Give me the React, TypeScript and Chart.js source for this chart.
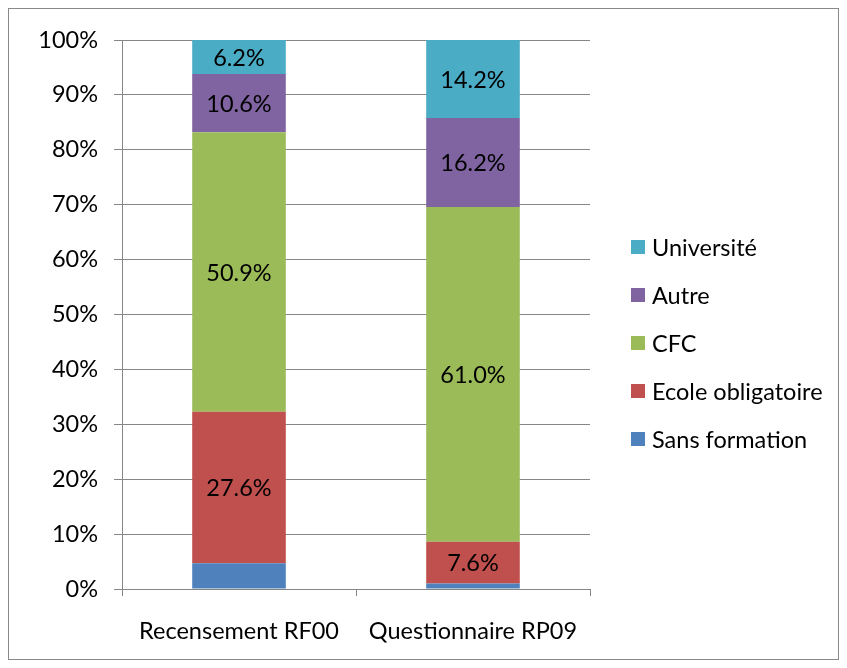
import React, { useEffect, useRef } from "react";
import { Chart, registerables } from "chart.js";

Chart.register(...registerables);

const categories = ["Recensement RF00", "Questionnaire RP09"];
const sansFormation = [4.7, 1.0];
const ecoleObligatoire = [27.6, 7.6];
const cfc = [50.9, 61.0];
const autre = [10.6, 16.2];
const universite = [6.2, 14.2];
const seriesNames = ["Sans formation", "Ecole obligatoire", "CFC", "Autre", "Université"];
const seriesColors = ["#4F81BD", "#C0504D", "#9BBB59", "#8064A2", "#4BACC6"];
const showLabels = [false, true, true, true, true];

const FONT = "Lato, 'Open Sans', sans-serif";
const FS = 23.5;

const labelPlugin = {
  id: "segLabels",
  afterDatasetsDraw(chart: any) {
    const ctx = chart.ctx;
    ctx.save();
    ctx.font = `${FS}px ${FONT}`;
    ctx.fillStyle = "#000";
    ctx.textAlign = "center";
    ctx.textBaseline = "middle";
    chart.data.datasets.forEach((ds: any, i: number) => {
      if (!showLabels[i]) return;
      const meta = chart.getDatasetMeta(i);
      meta.data.forEach((bar: any, j: number) => {
        const y = (bar.y + bar.base) / 2;
        ctx.fillText(ds.data[j].toFixed(1) + "%", bar.x, y + 1);
      });
    });
    ctx.restore();
  },
};

const legendPlugin = {
  id: "customLegend",
  afterDraw(chart: any) {
    const ctx = chart.ctx;
    ctx.save();
    ctx.font = `${FS}px ${FONT}`;
    ctx.textBaseline = "middle";
    ctx.textAlign = "left";
    const x0 = chart.chartArea.right + 41;
    const yStart = 238;
    const step = 48;
    for (let k = 0; k < seriesNames.length; k++) {
      const idx = seriesNames.length - 1 - k;
      const y = yStart + k * step;
      ctx.fillStyle = seriesColors[idx];
      ctx.fillRect(x0, y - 7, 14, 14);
      ctx.fillStyle = "#000";
      ctx.fillText(seriesNames[idx], x0 + 21, y + 1);
    }
    ctx.restore();
  },
};

export default function App() {
  const ref = useRef<HTMLCanvasElement>(null);
  useEffect(() => {
    const values = [sansFormation, ecoleObligatoire, cfc, autre, universite];
    const chart = new Chart(ref.current!, {
      type: "bar",
      data: {
        labels: categories,
        datasets: values.map((v, i) => ({
          label: seriesNames[i],
          data: v,
          backgroundColor: seriesColors[i],
          borderWidth: 0,
          barPercentage: 0.4,
          categoryPercentage: 1,
        })),
      },
      options: {
        animation: false,
        responsive: false,
        maintainAspectRatio: false,
        layout: { padding: { left: 0, right: 248, top: 31, bottom: 0 } },
        plugins: { legend: { display: false }, tooltip: { enabled: false } },
        scales: {
          x: {
            stacked: true,
            grid: { drawOnChartArea: false, drawTicks: true, tickLength: 7, color: "#868686", offset: true },
            border: { display: true, color: "#868686", width: 1 },
            ticks: { color: "#000", font: { family: FONT, size: FS }, padding: 21, maxRotation: 0 },
            afterFit: (s: any) => { s.height = 70; },
          },
          y: {
            stacked: true,
            min: 0,
            max: 100,
            ticks: { stepSize: 10, color: "#000", font: { family: FONT, size: FS }, padding: 16, callback: (v: any) => v + "%" },
            grid: { color: "#868686", tickLength: 8, drawTicks: true },
            border: { display: true, color: "#868686", width: 1 },
            afterFit: (s: any) => { s.width = 113; },
          },
        },
      },
      plugins: [labelPlugin, legendPlugin],
    });
    return () => chart.destroy();
  }, []);
  return (
    <div style={{ width: 831, height: 652, border: "1px solid #898989", boxSizing: "border-box", background: "#fff" }}>
      <canvas ref={ref} width={829} height={650} style={{ display: "block" }} />
    </div>
  );
}
